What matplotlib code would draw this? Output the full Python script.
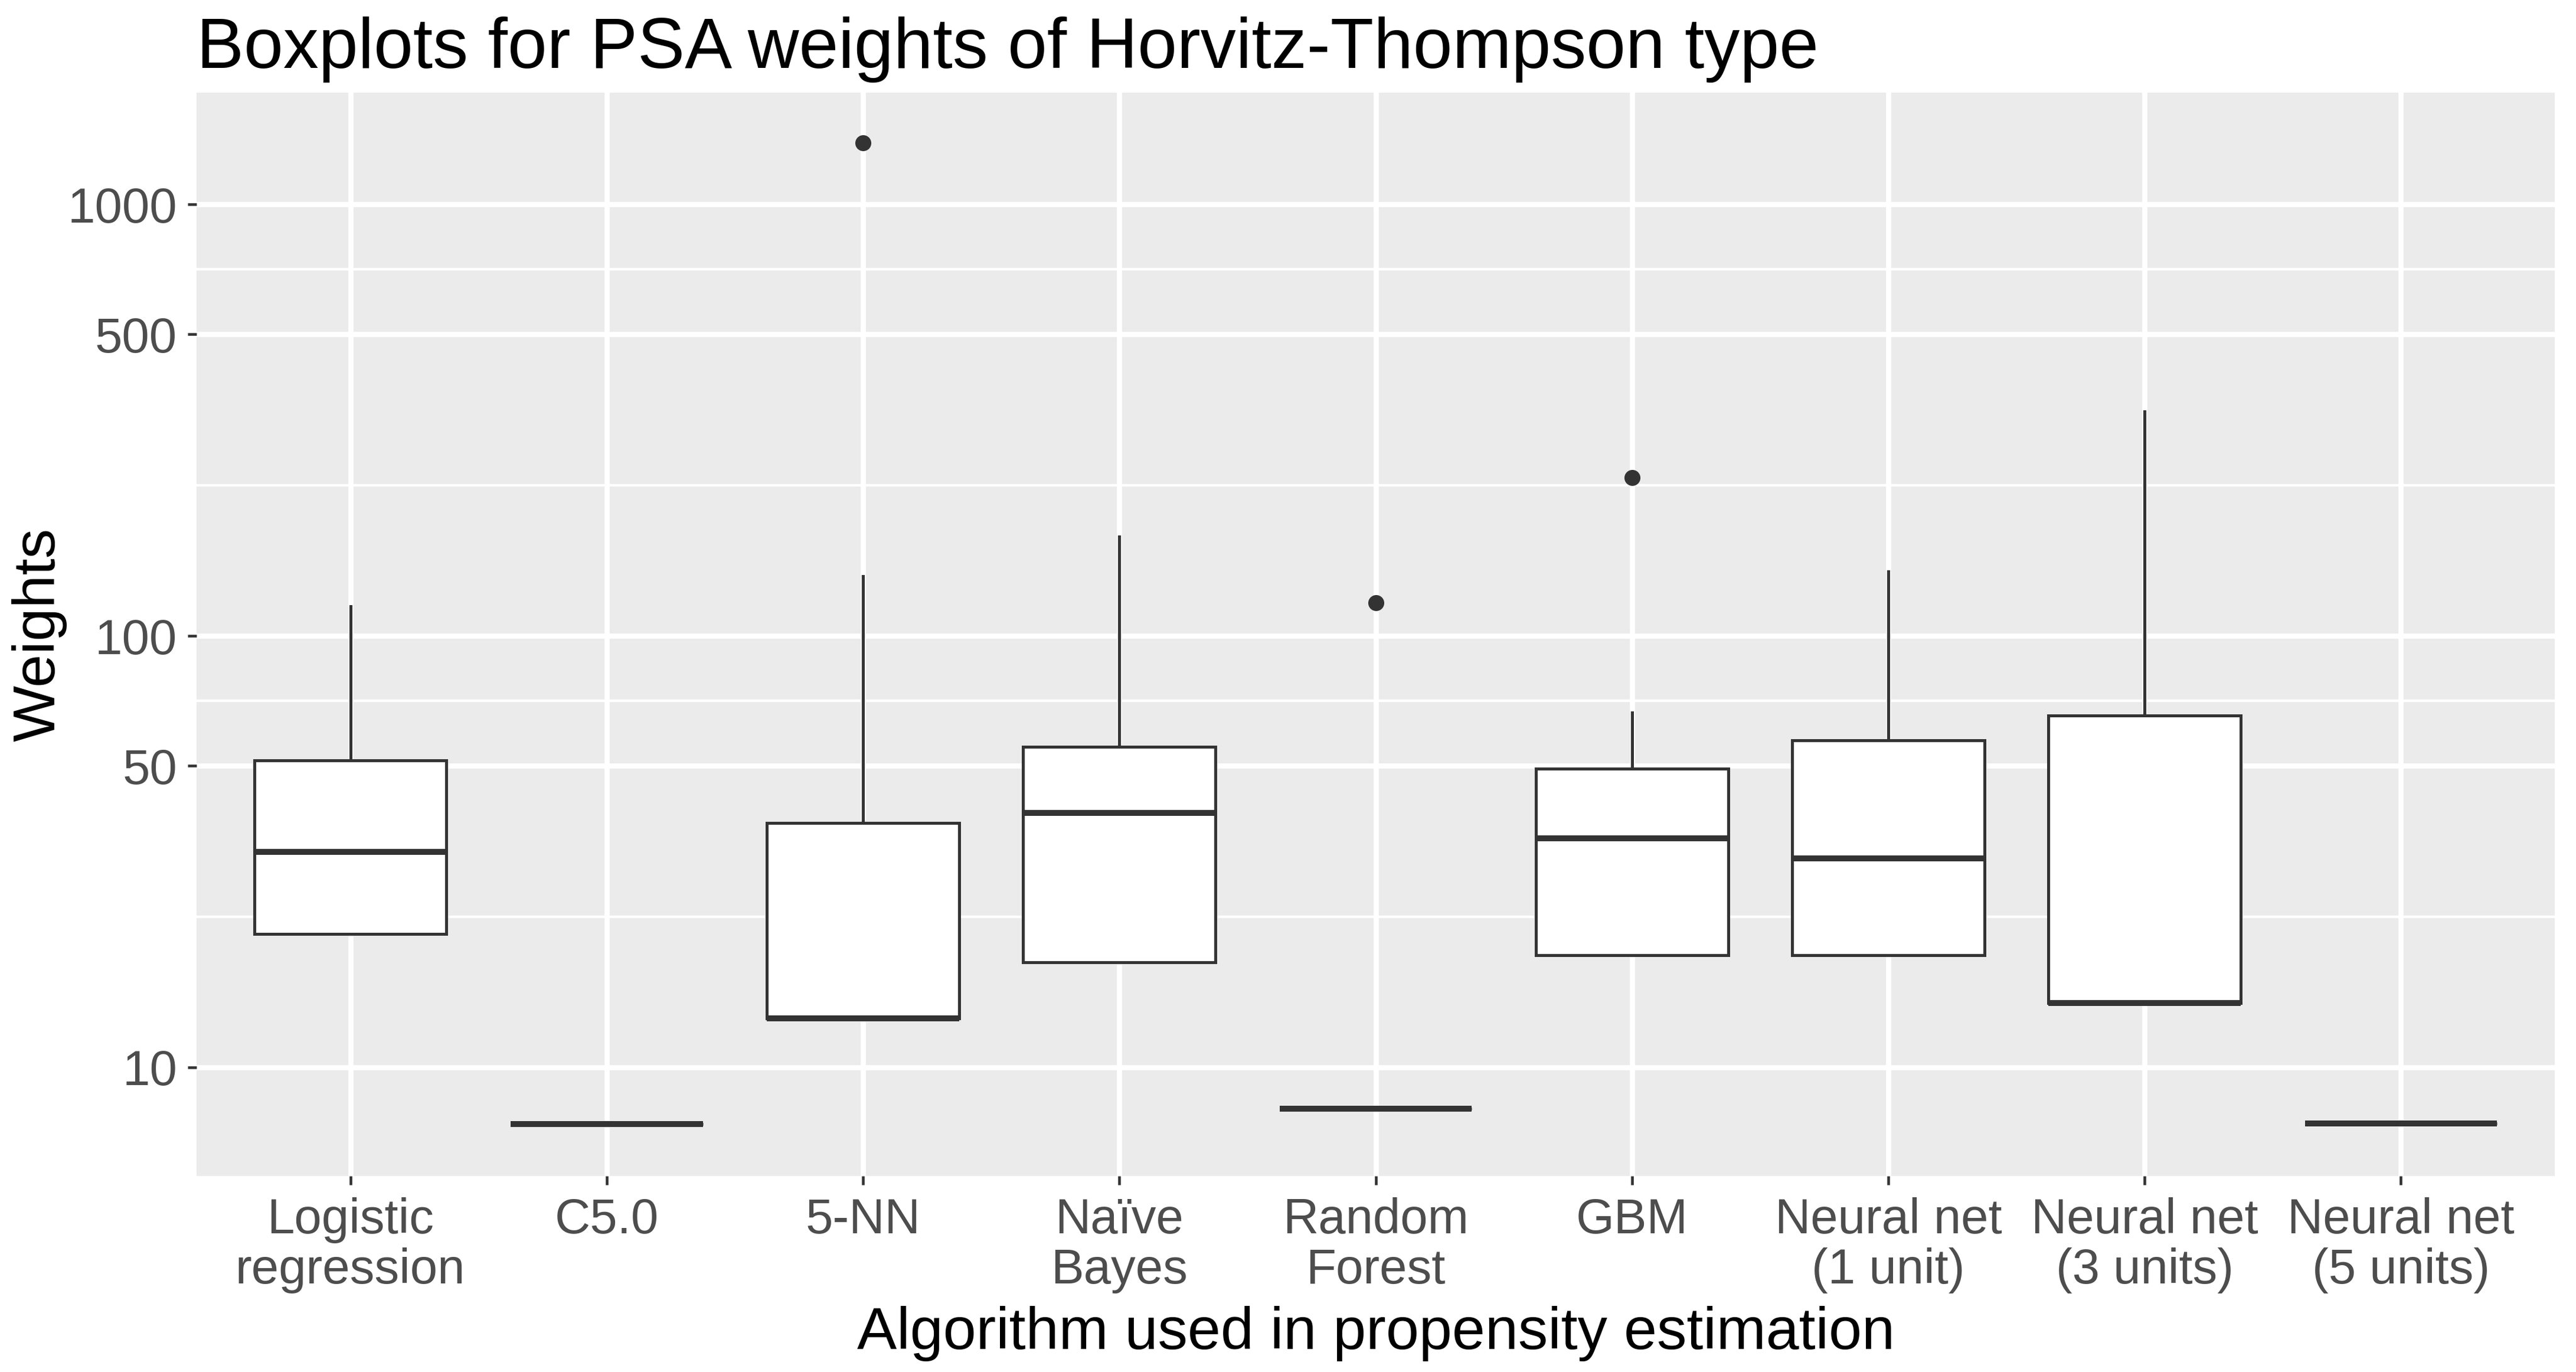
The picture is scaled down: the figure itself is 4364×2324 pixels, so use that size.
import matplotlib
matplotlib.use("Agg")
import matplotlib.pyplot as plt
from matplotlib.ticker import FixedLocator, NullFormatter
import numpy as np

plt.rcParams['font.family'] = ['Liberation Sans', 'DejaVu Sans']

# ---- data ----
categories = ["Logistic\nregression", "C5.0", "5-NN", "Naïve\nBayes", "Random\nForest",
              "GBM", "Neural net\n(1 unit)", "Neural net\n(3 units)", "Neural net\n(5 units)"]
whisker_low = [20.4, 7.4, 13.0, 17.5, 8.03, 18.2, 18.2, 14.1, 7.42]
q1 = [20.4, 7.4, 13.0, 17.5, 8.03, 18.2, 18.2, 14.1, 7.42]
median = [31.6, 7.4, 13.0, 38.9, 8.03, 33.9, 30.5, 14.1, 7.42]
q3 = [51.4, 7.4, 36.8, 55.3, 8.03, 49.3, 57.3, 65.3, 7.42]
whisker_high = [117.0, 7.4, 137.5, 170.0, 8.03, 66.5, 141.0, 331.0, 7.42]
outliers = [[], [], [1390.0], [], [119.5], [233.0], [], [], []]

y_breaks = [10, 50, 100, 500, 1000]
y_labels = ["10", "50", "100", "500", "1000"]
y_limits = (5.6, 1815.0)

title = "Boxplots for PSA weights of Horvitz-Thompson type"
xlab = "Algorithm used in propensity estimation"
ylab = "Weights"

# ---- figure ----
W, H, DPI = 4364, 2324, 300
fig = plt.figure(figsize=(W / DPI, H / DPI), dpi=DPI)
L, R, T, B = 333, 4328, 157, 1992
ax = fig.add_axes([L / W, 1 - B / H, (R - L) / W, (B - T) / H])
ax.set_facecolor("#EBEBEB")
for s in ax.spines.values():
    s.set_visible(False)

stats = []
for i in range(len(categories)):
    stats.append(dict(med=median[i], q1=q1[i], q3=q3[i], whislo=whisker_low[i],
                      whishi=whisker_high[i], fliers=outliers[i]))

positions = np.arange(1, len(categories) + 1)
edge = "#333333"
ax.bxp(stats, positions=positions, widths=0.75, showcaps=False, patch_artist=True,
       boxprops=dict(facecolor="white", edgecolor=edge, linewidth=1.2),
       medianprops=dict(color=edge, linewidth=2.4, solid_capstyle="butt"),
       whiskerprops=dict(color=edge, linewidth=1.2),
       flierprops=dict(marker="o", markerfacecolor=edge, markeredgecolor=edge,
                       markersize=6.0, markeredgewidth=0.5),
       zorder=3)

ax.set_yscale("log")
ax.set_ylim(*y_limits)
ax.set_xlim(0.4, len(categories) + 0.6)
ax.yaxis.set_major_locator(FixedLocator(y_breaks))
ax.set_yticklabels(y_labels)
lb = np.log10(y_breaks)
minor = 10 ** ((lb[:-1] + lb[1:]) / 2)
ax.yaxis.set_minor_locator(FixedLocator(minor))
ax.yaxis.set_minor_formatter(NullFormatter())
ax.set_xticks(positions)
ax.set_xticklabels(categories, linespacing=1.12)

ax.set_axisbelow(True)
ax.grid(which="major", color="white", linewidth=2.1)
ax.grid(which="minor", axis="y", color="white", linewidth=1.05)

ax.tick_params(axis="both", which="major", length=3.6, width=1.1, color=edge,
               labelcolor="#4D4D4D", labelsize=20)
ax.tick_params(axis="x", pad=5.0)
ax.tick_params(axis="y", pad=4.3)
ax.tick_params(which="minor", length=0)

fig.text(L / W, 1 - 115 / H, title, fontsize=28.8, color="black", ha="left", va="baseline")
fig.text((L + R) / 2 / W, 1 - 2285 / H, xlab, fontsize=24.2, color="black",
         ha="center", va="baseline")
fig.text(67 / W, 1 - ((T + B) / 2) / H, ylab, fontsize=24.2, color="black",
         ha="center", va="center", rotation=90)

fig.savefig("out.png", dpi=DPI, facecolor="white")
